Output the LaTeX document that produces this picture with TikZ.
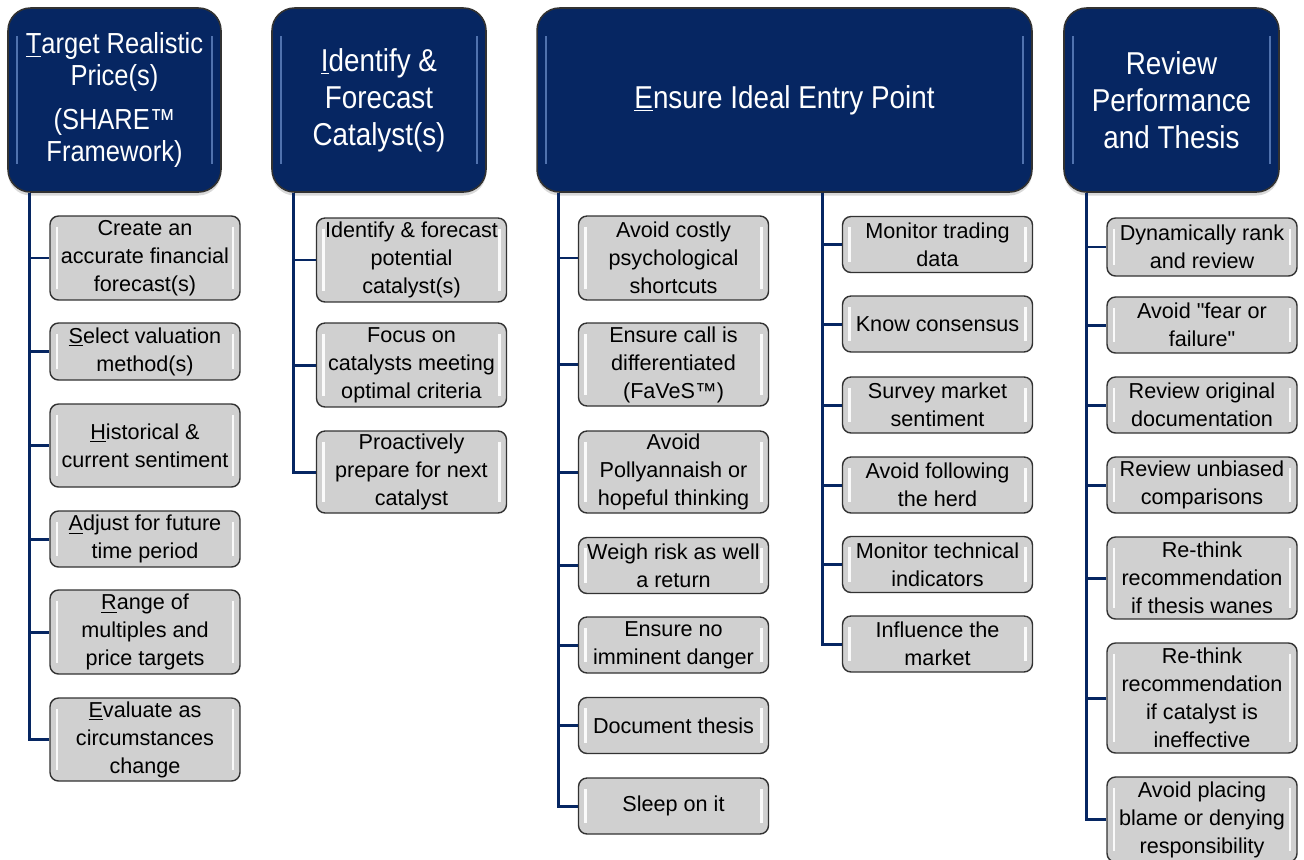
\documentclass[tikz,border=0pt]{standalone}
\usepackage{fontspec}
\setmainfont{Liberation Sans}[Ligatures=TeXOff]
\newfontfamily\headfont[FakeStretch=0.88]{Liberation Sans}
\usetikzlibrary{shadows}

\definecolor{navy}{RGB}{6,38,98}
\definecolor{glintblue}{RGB}{105,140,200}
\definecolor{boxgray}{RGB}{208,208,208}
\definecolor{edgegray}{RGB}{50,50,50}

\newcommand{\edgeglint}[3]{%
  \draw[#1] ([xshift=#2,yshift=-#3]path picture bounding box.north west)
    -- ([xshift=#2,yshift=#3]path picture bounding box.south west)
    ([xshift=-#2,yshift=-#3]path picture bounding box.north east)
    -- ([xshift=-#2,yshift=#3]path picture bounding box.south east);}

\tikzset{
  head/.style={draw=edgegray, line width=0.9pt, fill=navy, rounded corners=0.45cm,
    text=white, align=center, minimum height=3.68cm,
    font=\headfont\fontsize{18}{21}\selectfont,
    drop shadow={opacity=0.3, shadow xshift=0pt, shadow yshift=-2pt},
    path picture={\edgeglint{glintblue, line width=1pt, opacity=0.75}{5pt}{16pt}}},
  sub/.style={draw=edgegray, line width=0.8pt, fill=boxgray, rounded corners=0.17cm,
    align=center, minimum width=3.8cm, minimum height=#1, inner sep=1pt,
    font=\fontsize{12.3}{15.9}\selectfont,
    path picture={\edgeglint{white, line width=1.4pt, opacity=0.9}{4pt}{6pt}}},
  sub/.default=1.12cm,
  link/.style={draw=navy, line width=1.7pt}
}

\begin{document}
\begin{tikzpicture}[x=0.02cm, y=-0.02cm]
  \useasboundingbox (0,0) rectangle (1304,859);

  \node[head, minimum width=4.26cm, font=\headfont\fontsize{16.5}{18.2}\selectfont]
    (target) at (114.5,100) {\underline{T}arget Realistic\\Price(s)\\[7pt](SHARE™\\Framework)};
  \node[head, minimum width=4.28cm] (catalyst) at (379,100)
    {\underline{I}dentify \&\\Forecast\\Catalyst(s)};
  \node[head, minimum width=9.9cm] (entry) at (784.5,100)
    {\underline{E}nsure Ideal Entry Point};
  \node[head, minimum width=4.3cm] (review) at (1171.5,100)
    {Review\\Performance\\and Thesis};

  \node[sub=1.68cm] (create) at (145,258) {Create an\\accurate financial\\forecast(s)};
  \node[sub=1.14cm] (select) at (145,351.5) {\underline{S}elect valuation\\method(s)};
  \node[sub=1.66cm] (hist) at (145,445.5) {\underline{H}istorical \&\\current sentiment};
  \node[sub] (adjust) at (145,539) {\underline{A}djust for future\\time period};
  \node[sub=1.68cm] (range) at (145,632) {\underline{R}ange of\\multiples and\\price targets};
  \node[sub=1.66cm] (evaluate) at (145,739.5) {\underline{E}valuate as\\circumstances\\change};

  \node[sub=1.68cm] (idforecast) at (411.5,260) {Identify \& forecast\\potential\\catalyst(s)};
  \node[sub=1.68cm] (focus) at (411.5,365) {Focus on\\catalysts meeting\\optimal criteria};
  \node[sub=1.64cm] (proactive) at (411.5,472) {Proactively\\prepare for next\\catalyst};

  \node[sub=1.68cm] (costly) at (673.5,258) {Avoid costly\\psychological\\shortcuts};
  \node[sub=1.66cm] (differ) at (673.5,364.5) {Ensure call is\\differentiated\\(FaVeS™)};
  \node[sub=1.64cm] (polly) at (673.5,472) {Avoid\\Pollyannaish or\\hopeful thinking};
  \node[sub] (weigh) at (673.5,565.5) {Weigh risk as well\\a return};
  \node[sub] (danger) at (673.5,645) {Ensure no\\imminent danger};
  \node[sub] (docthesis) at (673.5,725.5) {Document thesis};
  \node[sub] (sleep) at (673.5,806) {Sleep on it};

  \node[sub] (trading) at (937.5,244.5) {Monitor trading\\data};
  \node[sub] (consensus) at (937.5,324) {Know consensus};
  \node[sub] (survey) at (937.5,405) {Survey market\\sentiment};
  \node[sub] (herd) at (937.5,485) {Avoid following\\the herd};
  \node[sub] (technical) at (937.5,564.5) {Monitor technical\\indicators};
  \node[sub] (influence) at (937.5,644) {Influence the\\market};

  \node[sub=1.16cm] (rank) at (1202,247) {Dynamically rank\\and review};
  \node[sub] (fear) at (1202,325) {Avoid "fear or\\failure"};
  \node[sub] (original) at (1202,405) {Review original\\documentation};
  \node[sub] (unbiased) at (1202,485) {Review unbiased\\comparisons};
  \node[sub=1.64cm] (wanes) at (1202,578) {Re-think\\recommendation\\if thesis wanes};
  \node[sub=2.2cm] (ineffective) at (1202,698) {Re-think\\recommendation\\if catalyst is\\ineffective};
  \node[sub=1.7cm] (blame) at (1202,819.5) {Avoid placing\\blame or denying\\responsibility};

  \coordinate (ttarget) at ([xshift=0.44cm]target.south west);
  \coordinate (tcatalyst) at ([xshift=0.44cm]catalyst.south west);
  \coordinate (tentry) at ([xshift=0.44cm]entry.south west);
  \coordinate (tmarket) at ([xshift=5.72cm]entry.south west);
  \coordinate (treview) at ([xshift=0.46cm]review.south west);

  \foreach \b in {create,select,hist,adjust,range,evaluate}
    \draw[link] (ttarget) |- (\b.west);
  \foreach \b in {idforecast,focus,proactive}
    \draw[link] (tcatalyst) |- (\b.west);
  \foreach \b in {costly,differ,polly,weigh,danger,docthesis,sleep}
    \draw[link] (tentry) |- (\b.west);
  \foreach \b in {trading,consensus,survey,herd,technical,influence}
    \draw[link] (tmarket) |- (\b.west);
  \foreach \b in {rank,fear,original,unbiased,wanes,ineffective,blame}
    \draw[link] (treview) |- (\b.west);
\end{tikzpicture}
\end{document}
